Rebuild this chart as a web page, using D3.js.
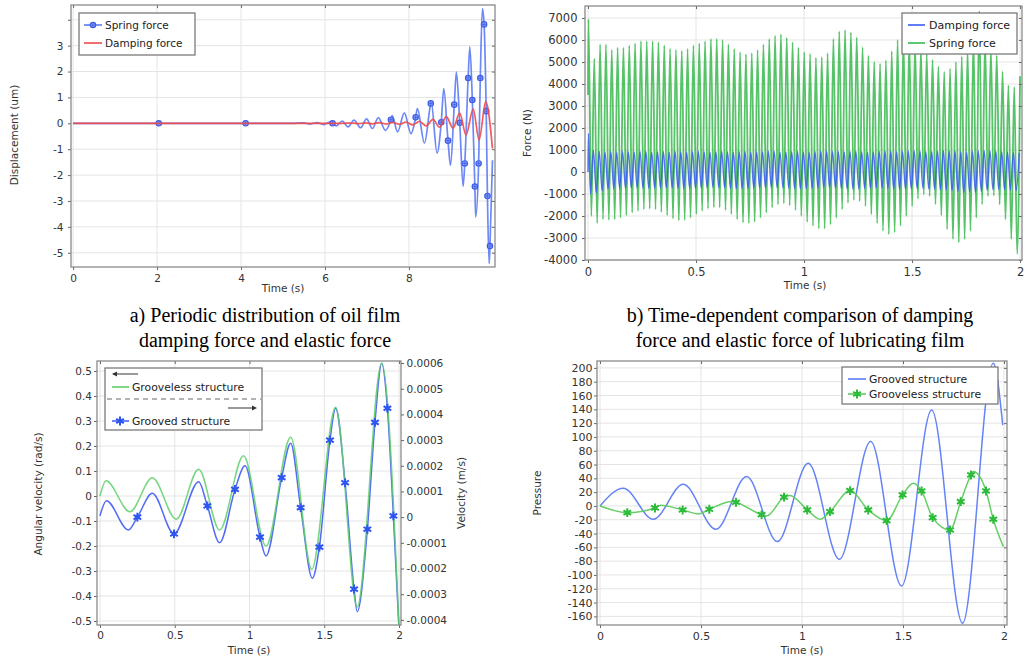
<!DOCTYPE html>
<html><head><meta charset="utf-8">
<script src="https://cdn.jsdelivr.net/npm/d3@7"></script>
<style>
body{margin:0;background:#fff}
svg{display:block}
</style>
</head><body>
<svg id="c" width="1029" height="656"></svg>
<script>
// ================= DATA =================
// Panel a : displacement vs time
const aTicksX = [0, 2, 4, 6, 8];
const aTicksY = [-5, -4, -3, -2, -1, 0, 1, 2, 3, 4];
const aSpring = [[0,0],[5.2,0],[5.49,0.02],[5.65,-0.03],[5.81,0.03],[5.97,-0.05],[6.13,0.05],[6.27,-0.1],[6.41,0.09],[6.55,-0.14],[6.69,0.12],[6.85,-0.17],[6.99,0.17],[7.13,-0.2],[7.27,0.22],[7.44,-0.27],[7.6,0.3],[7.73,-0.33],[7.89,0.4],[8.05,-0.4],[8.2,0.57],[8.37,-0.76],[8.53,0.82],[8.67,-1.15],[8.83,1.34],[8.99,-1.62],[9.13,1.98],[9.29,-2.43],[9.45,2.95],[9.59,-3.62],[9.75,4.43],[9.91,-5.42],[9.99,-1.43]];
const aSpringMarkers = [[2.04,0],[4.11,0],[6.18,0],[7.57,0.14],[8.16,0.23],[8.52,0.77],[8.77,0.04],[8.93,-0.67],[9.08,0.72],[9.21,0.02],[9.33,-1.55],[9.41,1.75],[9.51,0.9],[9.57,-2.44],[9.66,-1.55],[9.70,1.75],[9.79,3.82],[9.84,0.47],[9.87,-2.81],[9.93,-4.74]];
const aDamping = [[0,0],[6.4,0],[6.65,0.01],[6.81,-0.015],[6.97,0.02],[7.13,-0.02],[7.29,0.03],[7.45,-0.03],[7.61,0.04],[7.77,-0.04],[7.93,0.05],[8.09,-0.06],[8.25,0.08],[8.41,-0.1],[8.57,0.15],[8.73,-0.15],[8.89,0.26],[9.05,-0.19],[9.21,0.39],[9.36,-0.45],[9.53,0.55],[9.67,-0.64],[9.83,0.84],[9.99,-0.97]];

// Panel b : force vs time (peaks / troughs of each cycle)
const bTicksX = [0, 0.5, 1, 1.5, 2];
const bTicksY = [-4000,-3000,-2000,-1000,0,1000,2000,3000,4000,5000,6000,7000];
const bT0 = 0.002, bPeriod = 0.027;   // time of first peak, cycle length
const bSpringStart = 3500;
const bSpringPeaks = [6950,5150,5800,5800,5550,5650,5650,5750,5850,5950,5950,5950,5900,5750,5600,5550,5500,5600,5750,5850,5950,6050,6050,6000,5800,5600,5450,5350,5400,5550,5800,6050,6200,6250,6100,5900,5650,5450,
  5370,5190,5220,5400,6050,6390,6450,6350,6120,5670,5290,5000,4920,5070,5490,6000,6150,6050,5850,5600,5350,5100,4800,4550,4700,5000,5250,5600,6100,7320,6000,5600,5300,4570,3940,3860,4350];
const bSpringTroughs = [-2000,-2330,-2150,-2180,-2150,-2080,-1970,-1850,-1770,-1700,-1670,-1700,-1820,-1970,-2120,-2200,-2180,-2080,-1920,-1770,-1670,-1610,-1620,-1730,-1920,-2150,-2300,-2330,-2270,-2080,-1850,-1620,-1470,-1430,-1520,-1730,-2000,
  -2270,-2450,-2570,-2570,-2380,-2080,-1700,-1400,-1280,-1320,-1550,-1920,-2330,-2680,-2830,-2750,-2450,-2000,-1550,-1220,-1020,-1100,-1470,-1970,-2600,-3050,-3200,-3050,-2680,-2080,-1470,-1100,-1070,-1470,-2150,-3050,-3730];
const bDampPeaks = [1750,980,930,900,920,900,930,910,900,920,930,900,910,920,900,930,910,900,920,930,910,900,920,940,910,900,920,930,900,910,920,940,930,900,910,920,930,910,900,920,940,950,930,920,910,930,940,920,900,910,930,950,940,920,930,950,960,940,920,930,950,970,960,940,920,900,930,950,970,960,940,920,900,880,860];
const bDampTroughs = [-1000,-950,-850,-780,-760,-740,-730,-720,-720,-730,-740,-730,-720,-710,-720,-740,-750,-740,-730,-720,-710,-700,-710,-720,-740,-760,-750,-740,-730,-720,-710,-700,-710,-720,-730,-750,-760,-750,-740,-730,-720,-710,-720,-740,-760,-770,-760,-740,-730,-720,-730,-750,-770,-780,-770,-760,-750,-740,-760,-780,-800,-820,-850,-900,-950,-900,-920,-880,-820,-800,-790,-800,-820,-850];

// Panel c : angular velocity (left) / velocity (right)
const cTicksX = [0, 0.5, 1, 1.5, 2];
const cTicksYL = [-0.5,-0.4,-0.3,-0.2,-0.1,0,0.1,0.2,0.3,0.4,0.5];
const cTicksYR = [-0.0004,-0.0003,-0.0002,-0.0001,0,0.0001,0.0002,0.0003,0.0004,0.0005,0.0006];
const cGrooveless = [[0,0],[0.04,0.061],[0.2,-0.063],[0.35,0.073],[0.51,-0.093],[0.66,0.107],[0.8,-0.136],[0.96,0.161],[1.11,-0.2],[1.275,0.235],[1.416,-0.293],[1.576,0.355],[1.72,-0.443],[1.884,0.531],[2.0,-0.53]];
const cGrooved = [[0,0.000005],[0.043,0.000064],[0.19,-0.00005],[0.35,0.000093],[0.66,0.000138],[0.8,-0.0001],[0.97,0.0002],[1.11,-0.000151],[1.275,0.000288],[1.42,-0.000238],[1.576,0.000424],[1.72,-0.000368],[1.884,0.000599],[2.0,-0.00044]];
const cGroovedMarkers = [[0.25,0.0],[0.495,-0.000065],[0.718,0.000044],[0.903,0.000108],[1.07,-0.000078],[1.215,0.000154],[1.342,0.000037],[1.467,-0.000117],[1.538,0.0003],[1.639,0.000134],[1.699,-0.00028],[1.788,-0.000047],[1.839,0.000369],[1.922,0.000424],[1.962,0.000005]];

// Panel d : pressure
const dTicksX = [0, 0.5, 1, 1.5, 2];
const dTicksY = [-160,-140,-120,-100,-80,-60,-40,-20,0,20,40,60,80,100,120,140,160,180,200];
const dGrooved = [[0,0],[0.115,25.6],[0.264,-19.3],[0.412,31.4],[0.574,-33.8],[0.726,42.5],[0.878,-51.7],[1.031,61.8],[1.185,-77.3],[1.34,93.2],[1.493,-116],[1.642,139],[1.795,-170],[1.947,206.8],[1.994,117]];
const dGrooveless = [[0,0],[0.3,1.0],[0.49,-11.5],[0.655,6.5],[0.825,-14.5],[0.94,15],[1.089,-19.3],[1.551,32.9],[1.848,49.8],[1.997,-59]];
const dGroovelessMarkers = [[0.135,-9.7],[0.272,-2.9],[0.409,-5.8],[0.541,-4.8],[0.673,5.3],[0.8,-12.6],[0.911,12.7],[1.026,-5.8],[1.139,-8.2],[1.238,22.2],[1.328,-5.8],[1.419,-21.3],[1.498,16],[1.592,21.7],[1.647,-16.9],[1.733,-34.8],[1.786,6.3],[1.837,44.9],[1.911,21.7],[1.947,-19.3]];

// ================= DRAWING =================
const svg = d3.select("#c");
const FONT = "'DejaVu Sans', sans-serif";
const defs = svg.append("defs");

function styleAxis(sel, fs) {
  sel.select(".domain").remove();
  sel.selectAll(".tick line").attr("stroke", "#666");
  sel.selectAll("text").attr("fill", "#333").style("font-family", FONT).style("font-size", fs + "px");
}

function panel(cfg) {
  const x = d3.scaleLinear().domain(cfg.xDom).range([cfg.x0, cfg.x1]);
  const y = d3.scaleLinear().domain(cfg.yDom).range([cfg.y1, cfg.y0]);
  defs.append("clipPath").attr("id", cfg.id).append("rect")
    .attr("x", cfg.x0).attr("y", cfg.y0).attr("width", cfg.x1 - cfg.x0).attr("height", cfg.y1 - cfg.y0);
  const grid = svg.append("g");
  grid.selectAll(null).data(cfg.xTicks).join("line")
    .attr("x1", d => x(d)).attr("x2", d => x(d)).attr("y1", cfg.y0).attr("y2", cfg.y1)
    .attr("stroke", "#e4e4e4");
  grid.selectAll(null).data(cfg.yTicks).join("line")
    .attr("y1", d => y(d)).attr("y2", d => y(d)).attr("x1", cfg.x0).attr("x2", cfg.x1)
    .attr("stroke", "#e4e4e4");
  const plot = svg.append("g").attr("clip-path", `url(#${cfg.id})`);
  const ax = svg.append("g");
  ax.append("g").attr("transform", `translate(0,${cfg.y1})`)
    .call(d3.axisBottom(x).tickValues(cfg.xTicks).tickFormat(cfg.xFmt).tickSize(3).tickPadding(cfg.xPad))
    .call(s => styleAxis(s, cfg.fs));
  ax.append("g").attr("transform", `translate(${cfg.x0},0)`)
    .call(d3.axisLeft(y).tickValues(cfg.yTicks).tickFormat(cfg.yFmt).tickSize(3).tickPadding(cfg.yPad))
    .call(s => styleAxis(s, cfg.fs));
  if (!cfg.noRight) {
    ax.append("g").attr("transform", `translate(${cfg.x1},0)`)
      .call(d3.axisLeft(y).tickValues(cfg.yTicks).tickFormat("").tickSize(3))
      .call(s => styleAxis(s, cfg.fs));
  }
  ax.append("g").attr("transform", `translate(0,${cfg.y0})`)
    .call(d3.axisBottom(x).tickValues(cfg.xTicks).tickFormat("").tickSize(3))
    .call(s => styleAxis(s, cfg.fs));
  ax.append("rect").attr("x", cfg.x0).attr("y", cfg.y0)
    .attr("width", cfg.x1 - cfg.x0).attr("height", cfg.y1 - cfg.y0)
    .attr("fill", "none").attr("stroke", "#8a8a8a").attr("stroke-width", 1.3);
  return { x, y, plot, ax };
}

function title(txt, x, y, rot, fs) {
  svg.append("text").attr("transform", `translate(${x},${y}) rotate(${rot || 0})`)
    .attr("text-anchor", "middle").attr("fill", "#333")
    .style("font-family", FONT).style("font-size", (fs || 11) + "px").text(txt);
}

function drawLine(p, data, yScale, color, w, op) {
  const line = d3.line().x(d => p.x(d[0])).y(d => yScale(d[1])).curve(d3.curveMonotoneX);
  p.plot.append("path").datum(data).attr("d", line).attr("fill", "none")
    .attr("stroke", color).attr("stroke-width", w).attr("stroke-opacity", op || 1)
    .attr("stroke-linejoin", "round");
}

const merge = (a, b) => a.concat(b).sort((p, q) => p[0] - q[0]);
const starType = d3.symbolAsterisk || d3.symbolCross;
function star(g, cx, cy, color) {
  g.append("circle").attr("cx", cx).attr("cy", cy).attr("r", 2.2).attr("fill", color);
  g.append("path").attr("d", d3.symbol(starType, 55)()).attr("transform", `translate(${cx},${cy})`)
    .attr("fill", "none").attr("stroke", color).attr("stroke-width", 2);
}
function diamond(g, cx, cy) {
  g.append("circle").attr("cx", cx).attr("cy", cy).attr("r", 2.7)
    .attr("fill", "#8ea3f7").attr("stroke", "#3d5de6").attr("stroke-width", 1.2);
  g.append("path").attr("d", `M${cx - 2},${cy}H${cx + 2}M${cx},${cy - 2}V${cy + 2}`)
    .attr("stroke", "#3d5de6").attr("stroke-width", 0.8);
}
function legendText(txt, x, y, fs) {
  svg.append("text").attr("x", x).attr("y", y).attr("dy", "0.35em").attr("fill", "#222")
    .style("font-family", FONT).style("font-size", fs + "px").text(txt);
}
function legendBox(x, y, w, h) {
  svg.append("rect").attr("x", x).attr("y", y).attr("width", w).attr("height", h)
    .attr("fill", "#fff").attr("stroke", "#7a7a7a").attr("stroke-width", 1.3);
}
function legendLine(x1, x2, y, color, w, dash) {
  svg.append("line").attr("x1", x1).attr("x2", x2).attr("y1", y).attr("y2", y)
    .attr("stroke", color).attr("stroke-width", w).attr("stroke-dasharray", dash || null);
}

// ---------- Panel a ----------
{
  const p = panel({ id: "ca", x0: 71, x1: 495, y0: 5, y1: 267, xDom: [-0.05, 10.05], yDom: [-5.55, 4.57],
    xTicks: aTicksX, yTicks: aTicksY, xFmt: d => d, yFmt: d => (d === 4 ? "" : String(d)),
    fs: 10.5, xPad: 5, yPad: 4.5 });
  drawLine(p, merge(aSpring, aSpringMarkers), p.y, "#5d7cf5", 1.7, 0.9);
  aSpringMarkers.forEach(d => diamond(p.plot, p.x(d[0]), p.y(d[1])));
  drawLine(p, aDamping, p.y, "#f04a4a", 1.7, 0.9);
  title("Time (s)", 283, 292, 0, 10.5);
  title("Displacement (um)", 18, 135, -90, 10.5);
  legendBox(79, 13, 116, 42);
  legendLine(84, 102, 25, "#5d7cf5", 1.6);
  diamond(svg, 93, 25);
  legendText("Spring force", 105, 25, 10.5);
  legendLine(84, 102, 43, "#f04a4a", 1.6);
  legendText("Damping force", 105, 43, 10.5);
}

// ---------- Panel b ----------
{
  const p = panel({ id: "cb", x0: 585, x1: 1022, y0: 6, y1: 260, xDom: [-0.0139, 2.009], yDom: [-4000, 7545],
    xTicks: bTicksX, yTicks: bTicksY, xFmt: d => d, yFmt: d => String(d),
    fs: 11.5, xPad: 5, yPad: 4.5 });
  const spring = [[0, bSpringStart]];
  bSpringPeaks.forEach((v, i) => {
    spring.push([bT0 + i * bPeriod, v]);
    if (i < bSpringTroughs.length) spring.push([bT0 + (i + 0.5) * bPeriod, bSpringTroughs[i]]);
  });
  const damp = [[0, 0], [bT0, bDampPeaks[0]]];
  bDampTroughs.forEach((v, i) => {
    damp.push([bT0 + (i + 0.35) * bPeriod, v]);
    damp.push([bT0 + (i + 0.85) * bPeriod, bDampPeaks[i + 1]]);
  });
  drawLine(p, spring, p.y, "#38b94e", 1.8, 0.85);
  drawLine(p, damp, p.y, "#3a5cf0", 1.4, 0.85);
  title("Time (s)", 805, 289, 0, 10.5);
  title("Force (N)", 531, 133, -90, 10.5);
  legendBox(902, 13, 115, 41);
  legendLine(908, 925, 25, "#3a5cf0", 1.6);
  legendText("Damping force", 929, 25, 11);
  legendLine(908, 925, 43, "#38b94e", 1.6);
  legendText("Spring force", 929, 43, 11);
}

// ---------- Panel c ----------
{
  const p = panel({ id: "cc", x0: 97, x1: 401, y0: 361, y1: 625, xDom: [-0.02, 2.013], yDom: [-0.516, 0.54],
    xTicks: cTicksX, yTicks: cTicksYL, xFmt: d => d, yFmt: d => String(Math.round(d * 10) / 10),
    fs: 10.5, xPad: 4, yPad: 2, noRight: true });
  const yR = d3.scaleLinear().domain([-0.00042, 0.000608]).range([625, 361]);
  p.ax.append("g").attr("transform", "translate(401,0)")
    .call(d3.axisRight(yR).tickValues(cTicksYR).tickSize(3).tickPadding(2.5)
      .tickFormat(d => (Math.abs(d) < 1e-12 ? "0" : d.toFixed(4))))
    .call(s => styleAxis(s, 10.5));
  drawLine(p, merge(cGrooved, cGroovedMarkers), yR, "#4a64f6", 1.5, 0.95);
  drawLine(p, cGrooveless, p.y, "#5fcf6a", 1.5, 0.85);
  cGroovedMarkers.forEach(d => star(p.plot, p.x(d[0]), yR(d[1]), "#2f55f2"));
  title("Time (s)", 249, 654, 0, 10.5);
  title("Angular velocity (rad/s)", 42, 494, -90, 10.5);
  title("Velocity (m/s)", 465, 493, -90, 10.5);
  legendBox(105, 368, 157, 62);
  svg.append("line").attr("x1", 138).attr("x2", 113).attr("y1", 374).attr("y2", 374).attr("stroke", "#333").attr("stroke-width", 1);
  svg.append("path").attr("d", "M112,374 L117,371.5 L117,376.5 Z").attr("fill", "#333");
  legendLine(112, 129, 387, "#5fcf6a", 1.6);
  legendText("Grooveless structure", 132, 387, 10.8);
  legendLine(107, 261, 399, "#9a9a9a", 1.3, "5,4");
  svg.append("line").attr("x1", 228).attr("x2", 255).attr("y1", 408).attr("y2", 408).attr("stroke", "#333").attr("stroke-width", 1);
  svg.append("path").attr("d", "M257,408 L252,405.5 L252,410.5 Z").attr("fill", "#333");
  legendLine(112, 129, 421, "#4a64f6", 1.6);
  star(svg, 120, 421, "#2f55f2");
  legendText("Grooved structure", 132, 421, 10.8);
}

// ---------- Panel d ----------
{
  const p = panel({ id: "cd", x0: 597, x1: 1007, y0: 361, y1: 625, xDom: [-0.015, 2.015], yDom: [-172.5, 210],
    xTicks: dTicksX, yTicks: dTicksY, xFmt: d => d, yFmt: d => String(d),
    fs: 11, xPad: 4, yPad: 1.5 });
  drawLine(p, dGrooved, p.y, "#5c7cf4", 1.5, 0.95);
  drawLine(p, merge(dGrooveless, dGroovelessMarkers), p.y, "#5ccc5c", 1.5, 0.95);
  dGroovelessMarkers.forEach(d => star(p.plot, p.x(d[0]), p.y(d[1]), "#2dbb3a"));
  title("Time (s)", 802, 654, 0, 10.5);
  title("Pressure", 541, 493, -90, 10.5);
  legendBox(842, 367, 156, 37);
  legendLine(848, 866, 379, "#5c7cf4", 1.6);
  legendText("Grooved structure", 869, 379, 10.8);
  legendLine(848, 866, 394, "#5ccc5c", 1.6);
  star(svg, 857, 394, "#2dbb3a");
  legendText("Grooveless structure", 869, 394, 10.8);
}

// ---------- captions ----------
function caption(txt, x, y) {
  svg.append("text").attr("x", x).attr("y", y).attr("text-anchor", "middle").attr("fill", "#000")
    .style("font-family", "'Liberation Serif', 'Times New Roman', serif").style("font-size", "20px").text(txt);
}
caption("a) Periodic distribution of oil film", 265, 322);
caption("damping force and elastic force", 265, 347);
caption("b) Time-dependent comparison of damping", 800, 322);
caption("force and elastic force of lubricating film", 800, 347);
</script>
</body></html>
